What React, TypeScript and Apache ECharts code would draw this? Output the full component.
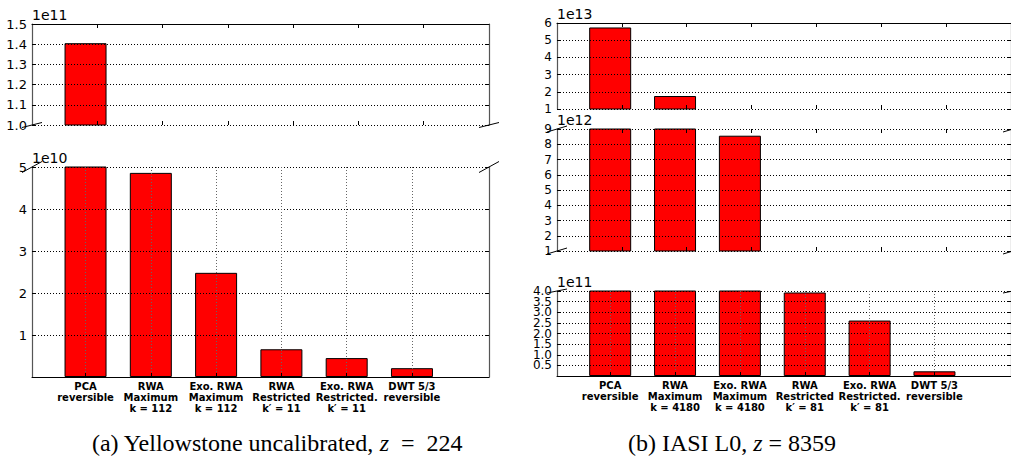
import React, { useEffect, useRef } from 'react';
import * as echarts from 'echarts';

// Category labels (one per bar)
const yellowstoneMethods = [
  'PCA\nreversible',
  'RWA\nMaximum\nk = 112',
  'Exo. RWA\nMaximum\nk = 112',
  'RWA\nRestricted\nk′ = 11',
  'Exo. RWA\nRestricted.\nk′ = 11',
  'DWT 5/3\nreversible',
];
const iasiMethods = [
  'PCA\nreversible',
  'RWA\nMaximum\nk = 4180',
  'Exo. RWA\nMaximum\nk = 4180',
  'RWA\nRestricted\nk′ = 81',
  'Exo. RWA\nRestricted.\nk′ = 81',
  'DWT 5/3\nreversible',
];

// Bar heights
const yellowstoneValues = [1.405e11, 4.86e10, 2.48e10, 6.6e9, 4.5e9, 2.1e9];
const iasiValues = [5.74e13, 1.755e13, 8.56e12, 3.93e11, 2.61e11, 2.2e10];

// Broken y-axis pieces, top to bottom
const yellowstoneSegments = [
  { min: 1.0e11, max: 1.5e11, step: 1e10, exp: 11, decimals: 1 },
  { min: 0, max: 5e10, step: 1e10, exp: 10, decimals: 0 },
];
const iasiSegments = [
  { min: 1e13, max: 6e13, step: 1e13, exp: 13, decimals: 0 },
  { min: 1e12, max: 9e12, step: 1e12, exp: 12, decimals: 0 },
  { min: 0, max: 4e11, step: 5e10, exp: 11, decimals: 1 },
];

// x positions: bars sit on 0..5, upper pieces carry shifted tick marks
const barTicks = [0, 1, 2, 3, 4, 5];
const shiftedTicks = [0.18, 1.18, 2.18, 3.18, 4.18, 5.18];
const X_MIN = -0.82;
const X_MAX = 6.18;

const FONT = "'DejaVu Sans', sans-serif";
const SERIF = "'Liberation Serif', 'Times New Roman', serif";

const panels = [
  {
    left: 32,
    width: 457,
    rows: [
      { top: 24, height: 101 },
      { top: 167, height: 210 },
    ],
    segments: yellowstoneSegments,
    values: yellowstoneValues,
    labels: yellowstoneMethods,
    tickFont: 13,
    breaks: [
      { row: 0, edge: 'bottom', dy: 2.5 },
      { row: 1, edge: 'top', dy: 5.5 },
    ],
  },
  {
    left: 557,
    width: 456,
    rows: [
      { top: 23, height: 86 },
      { top: 129, height: 122 },
      { top: 291, height: 85 },
    ],
    segments: iasiSegments,
    values: iasiValues,
    labels: iasiMethods,
    tickFont: 12,
    breaks: [
      { row: 1, edge: 'top', dy: 3 },
      { row: 1, edge: 'bottom', dy: 3 },
      { row: 2, edge: 'top', dy: 2 },
    ],
  },
];

function tickValues(seg: { min: number; max: number; step: number }) {
  const out: number[] = [];
  const n = Math.round((seg.max - seg.min) / seg.step);
  for (let j = 0; j <= n; j++) out.push(seg.min + j * seg.step);
  return out;
}

function buildOption() {
  const grid: any[] = [];
  const xAxis: any[] = [];
  const yAxis: any[] = [];
  const series: any[] = [];
  const graphic: any[] = [];

  panels.forEach((p) => {
    p.rows.forEach((r, k) => {
      const seg = p.segments[k];
      const gi = grid.length;
      const first = k === 0;
      const last = k === p.rows.length - 1;
      grid.push({ left: p.left, top: r.top, width: p.width, height: r.height });

      const xBase = { type: 'value', gridIndex: gi, min: X_MIN, max: X_MAX, z: 5 };
      const bottomIdx = xAxis.length;
      if (last) {
        xAxis.push({
          ...xBase,
          position: 'bottom',
          axisLine: { show: true, onZero: false, lineStyle: { color: '#000', width: 1 } },
          axisTick: { show: true, inside: true, length: 4, customValues: barTicks, lineStyle: { color: '#000' } },
          axisLabel: {
            customValues: barTicks,
            formatter: (v: number) => p.labels[Math.round(v)] ?? '',
            margin: 4,
            fontFamily: FONT,
            fontWeight: 'bold',
            fontSize: 10,
            lineHeight: 11,
            color: '#000',
          },
          splitLine: { show: true, lineStyle: { color: '#666', type: [1, 2], width: 1 } },
        });
        xAxis.push({
          ...xBase,
          position: 'top',
          axisLine: { show: false, onZero: false },
          axisTick: { show: false },
          axisLabel: { show: false },
          splitLine: { show: false },
        });
      } else {
        xAxis.push({
          ...xBase,
          position: 'bottom',
          axisLine: { show: false, onZero: false },
          axisTick: { show: true, inside: true, length: 4, customValues: shiftedTicks, lineStyle: { color: '#000' } },
          axisLabel: { show: false },
          splitLine: { show: false },
        });
        xAxis.push({
          ...xBase,
          position: 'top',
          axisLine: { show: first, onZero: false, lineStyle: { color: '#000', width: 1 } },
          axisTick: { show: true, inside: true, length: 4, customValues: shiftedTicks, lineStyle: { color: '#000' } },
          axisLabel: { show: false },
          splitLine: { show: false },
        });
      }

      // tick labels split over two overlaid axes so that crowded labels all stay visible
      const ticks = tickValues(seg).filter((v) => v !== 0);
      const fromTop = ticks.slice().reverse();
      const labelSetA = fromTop.filter((_, j) => j % 2 === 0);
      const labelSetB = fromTop.filter((_, j) => j % 2 === 1);
      const labelStyle = {
        formatter: (v: number) => (v / Math.pow(10, seg.exp)).toFixed(seg.decimals),
        fontFamily: FONT,
        fontSize: p.tickFont,
        color: '#000',
        margin: 5,
      };

      const yBase = { type: 'value', gridIndex: gi, min: seg.min, max: seg.max, interval: seg.step, z: 5 };
      const leftIdx = yAxis.length;
      yAxis.push({
        ...yBase,
        position: 'left',
        axisLine: { show: true, onZero: false, lineStyle: { color: '#555', width: 1.2 } },
        axisTick: { show: true, inside: true, length: 4, lineStyle: { color: '#000' } },
        axisLabel: { ...labelStyle, customValues: labelSetA },
        splitLine: { show: true, lineStyle: { color: '#000', type: [1, 2], width: 1 } },
        name: '1e' + seg.exp,
        nameLocation: 'end',
        nameGap: 2,
        nameTextStyle: { align: 'left', verticalAlign: 'bottom', fontFamily: FONT, fontSize: 14, color: '#000' },
      });
      yAxis.push({
        ...yBase,
        position: 'left',
        axisLine: { show: false, onZero: false },
        axisTick: { show: false },
        axisLabel: { ...labelStyle, customValues: labelSetB },
        splitLine: { show: false },
      });
      yAxis.push({
        ...yBase,
        position: 'right',
        axisLine: { show: true, onZero: false, lineStyle: { color: '#555', width: 1.2 } },
        axisTick: { show: true, inside: true, length: 4, lineStyle: { color: '#000' } },
        axisLabel: { show: false },
        splitLine: { show: false },
      });

      series.push({
        type: 'bar',
        xAxisIndex: bottomIdx,
        yAxisIndex: leftIdx,
        barWidth: 42,
        clip: true,
        z: 2,
        itemStyle: { color: '#ff0000', borderColor: '#000', borderWidth: 1 },
        data: p.values.map((v, i) => [i, v]).filter((d) => d[1] > seg.min),
      });
    });

    // diagonal break marks at the cut edges of the axis pieces
    p.breaks.forEach((b) => {
      const r = p.rows[b.row];
      const y = b.edge === 'top' ? r.top : r.top + r.height;
      [p.left, p.left + p.width].forEach((x) => {
        graphic.push({
          type: 'line',
          z: 100,
          shape: { x1: x - 10, y1: y + b.dy, x2: x + 10, y2: y - b.dy },
          style: { stroke: '#000', lineWidth: 1 },
        });
      });
    });
  });

  const captionStyle = {
    fontFamily: SERIF,
    fontSize: 24,
    fill: '#000',
    align: 'center',
    verticalAlign: 'middle',
    rich: { i: { fontStyle: 'italic', fontFamily: SERIF, fontSize: 24 } },
  };
  graphic.push({
    type: 'text',
    x: 277,
    y: 443,
    style: { ...captionStyle, text: '(a) Yellowstone uncalibrated, {i|z}  =  224' },
  });
  graphic.push({
    type: 'text',
    x: 732,
    y: 443,
    style: { ...captionStyle, text: '(b) IASI L0, {i|z} = 8359' },
  });

  return {
    animation: false,
    backgroundColor: '#fff',
    grid,
    xAxis,
    yAxis,
    series,
    graphic,
  };
}

export default function App() {
  const ref = useRef<HTMLDivElement>(null);
  useEffect(() => {
    if (!ref.current) return;
    const chart = echarts.init(ref.current, undefined, { renderer: 'svg' });
    chart.setOption(buildOption() as any);
    return () => chart.dispose();
  }, []);
  return (
    <div
      ref={ref}
      style={{ position: 'fixed', left: 0, top: 0, width: 1011, height: 465, background: '#fff' }}
    />
  );
}
